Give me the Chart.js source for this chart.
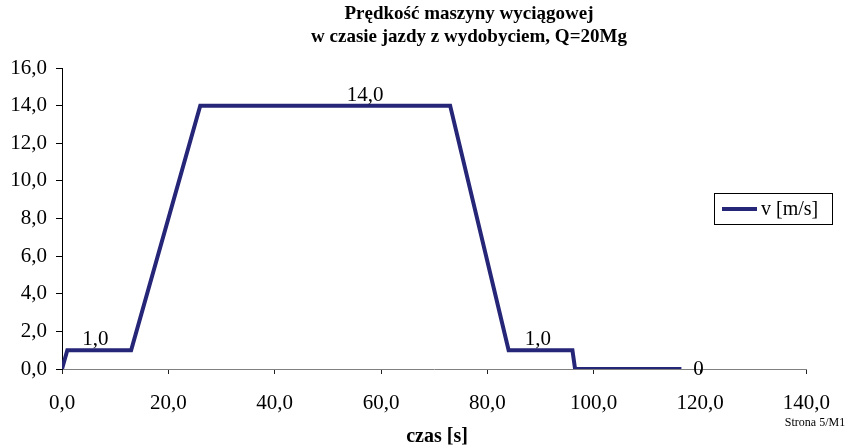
<!DOCTYPE html>
<html>
<head>
<meta charset="utf-8">
<script src="https://cdn.jsdelivr.net/npm/chart.js@4/dist/chart.umd.min.js"></script>
<style>
  html, body { margin: 0; padding: 0; background: #fff; }
  #wrap { width: 847px; height: 448px; }
</style>
</head>
<body>
<div id="wrap"><canvas id="chart1" width="847" height="448"></canvas></div>
<script>
// czas [s] i predkosc [m/s]
const czas = [0, 1, 13, 26, 73, 84, 96, 96.5, 116.5];
const predkosc = [0, 1, 1, 14, 14, 1, 1, 0, 0];

// etykiety danych
const etykietyX = [6.3, 57, 89.5, 119.7];
const etykietyY = [1, 14, 1, 0];
const etykietyTekst = ['1,0', '14,0', '1,0', '0'];

const tytul = ['Prędkość maszyny wyciągowej', 'w czasie jazdy z wydobyciem, Q=20Mg'];
const nazwaSerii = 'v [m/s]';
const kolor = '#262679';
const serif = '"Liberation Serif", "Times New Roman", serif';

const fmt = v => v.toFixed(1).replace('.', ',');

const dodatki = {
    id: 'dodatki',
    afterDraw(chart) {
        const ctx = chart.ctx;
        const xs = chart.scales.x, ys = chart.scales.y;
        ctx.save();
        ctx.fillStyle = '#000';
        // tytul
        ctx.font = 'bold 19px ' + serif;
        ctx.textAlign = 'center';
        ctx.textBaseline = 'middle';
        ctx.fillText(tytul[0], 469, 14);
        ctx.fillText(tytul[1], 469, 37);
        // etykiety danych
        ctx.font = '21px ' + serif;
        etykietyX.forEach((x, i) => {
            const px = xs.getPixelForValue(x);
            const py = ys.getPixelForValue(etykietyY[i]);
            if (etykietyTekst[i] === '0') {
                ctx.fillText(etykietyTekst[i], px, py);
            } else {
                ctx.textBaseline = 'alphabetic';
                ctx.fillText(etykietyTekst[i], px, py - 5);
                ctx.textBaseline = 'middle';
            }
        });
        // tytul osi x
        ctx.font = 'bold 20px ' + serif;
        ctx.fillText('czas [s]', 437, 437);
        // stopka
        ctx.font = '12px ' + serif;
        ctx.fillText('Strona 5/M1', 815, 423);
        // legenda
        ctx.strokeStyle = '#000';
        ctx.lineWidth = 1;
        ctx.strokeRect(714.5, 193.5, 118, 31);
        ctx.strokeStyle = kolor;
        ctx.lineWidth = 4;
        ctx.beginPath();
        ctx.moveTo(722, 209);
        ctx.lineTo(757, 209);
        ctx.stroke();
        ctx.fillStyle = '#000';
        ctx.font = '20px ' + serif;
        ctx.textAlign = 'left';
        ctx.fillText(nazwaSerii, 761, 210);
        ctx.restore();
    }
};

const ctx1 = document.getElementById('chart1').getContext('2d');
const chart1 = new Chart(ctx1, {
    type: 'line',
    data: {
        datasets: [{
            label: nazwaSerii,
            data: czas.map((t, i) => ({ x: t, y: predkosc[i] })),
            borderColor: kolor,
            borderWidth: 4,
            pointRadius: 0,
            fill: false,
            tension: 0
        }]
    },
    options: {
        responsive: false,
        animation: false,
        layout: { padding: { left: 0, right: 37, top: 68, bottom: 0 } },
        plugins: {
            legend: { display: false },
            tooltip: { enabled: false }
        },
        scales: {
            x: {
                type: 'linear',
                min: 0,
                max: 140,
                afterFit: s => { s.height = 79; },
                border: { display: true, color: '#808080', width: 1 },
                grid: { display: true, drawOnChartArea: false, drawTicks: true, tickLength: 5, color: '#222' },
                ticks: {
                    stepSize: 20,
                    padding: 17,
                    color: '#000',
                    font: { family: serif, size: 21 },
                    callback: v => fmt(v)
                }
            },
            y: {
                min: 0,
                max: 16,
                afterFit: s => { s.width = 62; },
                border: { display: true, color: '#000', width: 1 },
                grid: { drawOnChartArea: false, drawTicks: true, tickLength: 6, color: '#000' },
                ticks: {
                    stepSize: 2,
                    padding: 9,
                    color: '#000',
                    font: { family: serif, size: 21 },
                    callback: v => fmt(v)
                }
            }
        }
    },
    plugins: [dodatki]
});
</script>
</body>
</html>
